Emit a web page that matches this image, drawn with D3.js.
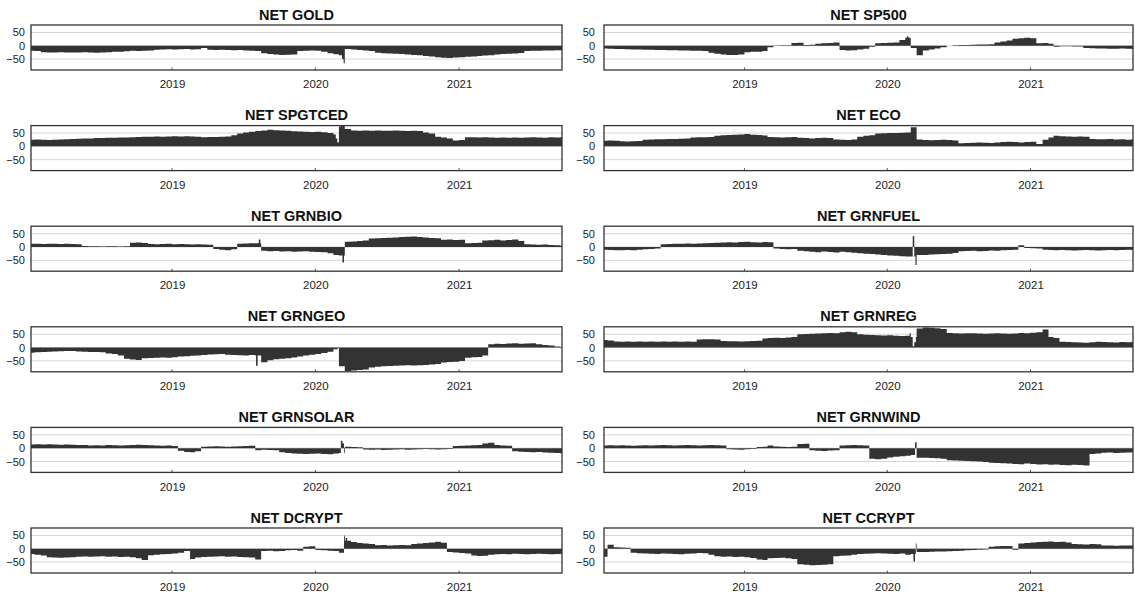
<!DOCTYPE html>
<html><head><meta charset="utf-8">
<script src="https://cdn.jsdelivr.net/npm/d3@7"></script>
<style>body{margin:0;background:#fff}svg{display:block}</style>
</head><body><svg id="c" width="1135" height="598"></svg>
<script>
// Semi-monthly readings (1st and 16th of each month, Jan 2018 - Sep 2021)
const gold = [-19,-20,-24,-25,-25,-24,-25,-25,-25,-24,-25,-26,-25,-24,-22,-22,-21,-19,-20,-19,-18,-15,-14,-13,-14,-13,-12,-14,-13,-8,-15,-16,-15,-16,-17,-16,-18,-19,-20,-28,-31,-33,-35,-34,-33,-20,-19,-18,-19,-22,-28,-32,-36,-12,-14,-16,-18,-20,-26,-28,-29,-30,-31,-33,-35,-36,-38,-40,-43,-45,-46,-44,-43,-41,-40,-38,-37,-36,-33,-31,-30,-29,-27,-20,-19,-19,-18,-18,-17,-17];
const sp500 = [-10,-11,-12,-12,-13,-14,-14,-15,-15,-16,-16,-17,-17,-18,-18,-19,-19,-20,-26,-30,-33,-35,-35,-33,-24,-22,-22,-20,-6,1,2,2,10,11,3,4,8,9,10,12,-16,-18,-17,-14,-11,-4,9,10,11,12,22,30,-8,-36,-18,-14,-10,-6,0,2,3,3,4,5,5,6,12,16,20,26,28,30,28,9,10,8,-4,-2,-2,-3,-3,-8,-9,-10,-10,-11,-11,-10,-11,-12];
const spgtced = [25,26,25,24,25,26,27,28,29,30,30,31,31,32,32,33,33,34,35,36,36,37,36,37,38,37,38,37,36,34,35,35,36,37,42,48,52,55,58,60,62,61,60,59,57,56,55,54,55,53,50,45,75,65,60,59,60,59,60,59,59,60,59,58,59,58,52,48,36,33,30,22,24,34,34,33,34,33,32,33,32,33,32,33,34,33,32,34,33,34];
const eco = [21,22,21,19,18,19,20,25,26,27,27,28,28,29,30,33,34,34,35,40,42,43,44,45,46,44,43,41,35,34,33,34,35,32,31,30,31,32,31,26,25,24,26,36,40,42,48,49,50,50,51,52,72,26,24,23,24,25,24,22,12,13,14,15,14,13,15,16,17,16,15,16,17,9,25,33,40,38,37,36,37,36,28,27,27,28,26,27,25,27];
const grnbio = [12,12,11,12,12,11,12,11,10,4,3,3,2,3,3,2,3,16,17,15,11,10,11,12,10,11,10,9,10,9,8,-8,-10,-12,-9,12,13,14,14,-14,-16,-15,-17,-16,-18,-17,-16,-18,-19,-20,-24,-30,-32,20,21,22,24,32,33,34,35,36,37,38,39,37,36,34,33,27,28,26,27,14,15,16,24,25,27,24,26,28,22,10,9,8,9,7,6,5];
const grnfuel = [-10,-11,-12,-12,-11,-12,-10,-9,-8,-6,10,11,12,12,13,12,13,14,15,16,17,18,17,19,20,18,17,19,18,-6,-8,-9,-8,-14,-16,-18,-20,-17,-19,-21,-18,-20,-22,-24,-25,-26,-28,-30,-32,-33,-35,-36,-36,-30,-30,-28,-27,-26,-25,-23,-16,-15,-14,-16,-15,-13,-14,-12,-11,-10,6,-4,-5,-6,-10,-11,-12,-11,-12,-13,-12,-11,-12,-13,-12,-11,-12,-11,-10,-11];
const grngeo = [-19,-18,-17,-16,-15,-14,-13,-13,-15,-16,-17,-17,-18,-22,-24,-30,-42,-45,-47,-40,-39,-38,-37,-38,-36,-34,-33,-31,-30,-28,-26,-25,-24,-27,-28,-29,-30,-28,-30,-55,-48,-44,-42,-40,-37,-34,-30,-27,-24,-20,-16,-6,-70,-88,-86,-84,-82,-75,-72,-70,-69,-68,-67,-66,-67,-66,-65,-64,-62,-56,-54,-53,-50,-38,-36,-35,-30,12,14,13,15,16,14,15,16,12,10,8,4,-3];
const grnreg = [28,27,23,22,23,22,23,22,23,22,23,22,23,22,23,22,30,31,31,30,25,24,24,23,24,25,26,34,36,37,36,38,40,50,51,52,53,54,55,54,58,59,58,50,48,47,46,45,46,44,43,44,40,72,75,74,73,70,55,54,53,54,54,53,52,53,54,53,52,53,55,54,56,58,68,40,36,22,21,20,19,18,20,22,21,20,19,21,20,22];
const grnsolar = [14,15,14,15,14,13,14,13,12,12,10,11,10,12,11,10,11,12,13,12,11,10,9,10,8,-10,-14,-15,-12,5,6,7,6,5,6,7,8,9,-8,-6,-7,-8,-15,-18,-20,-21,-22,-21,-20,-22,-23,-20,-18,5,4,3,-5,-6,-5,-7,-6,-5,-4,-6,-5,-4,-3,-4,-5,-4,-3,8,9,10,11,12,18,20,12,10,9,-12,-13,-14,-15,-14,-16,-17,-18,-20];
const grnwind = [10,11,10,11,10,9,10,11,10,11,12,11,10,11,12,11,10,11,12,11,10,-4,-5,-6,-4,-3,4,5,10,6,5,4,5,16,17,-8,-10,-11,-9,-8,10,11,12,11,10,-40,-42,-40,-35,-32,-30,-28,-26,-36,-36,-37,-38,-40,-45,-46,-47,-48,-49,-50,-52,-55,-56,-57,-58,-59,-60,-58,-59,-61,-60,-62,-61,-63,-64,-62,-63,-65,-22,-20,-17,-16,-18,-17,-16,-15];
const dcrypt = [-20,-22,-25,-32,-33,-34,-33,-32,-30,-29,-30,-29,-28,-30,-29,-31,-30,-32,-36,-42,-24,-22,-21,-20,-18,-15,-8,-38,-33,-31,-30,-29,-28,-30,-29,-31,-32,-33,-40,-8,-7,-9,-8,-6,-5,-7,8,9,-5,-6,-7,-8,-15,30,25,22,20,18,13,14,12,13,14,13,18,20,22,24,26,23,-12,-14,-16,-18,-25,-27,-26,-22,-21,-20,-21,-19,-20,-21,-20,-19,-20,-21,-20,-19];
const ccrypt = [-30,15,6,5,4,-15,-17,-18,-19,-20,-18,-19,-20,-21,-19,-18,-16,-17,-22,-28,-30,-29,-31,-30,-32,-35,-40,-42,-36,-35,-34,-36,-38,-58,-60,-62,-61,-60,-58,-28,-26,-25,-22,-20,-19,-18,-17,-18,-19,-20,-18,-22,-20,-12,-12,-11,-10,-10,-9,-8,-7,-6,-5,-4,-3,8,9,10,10,-4,20,22,24,25,26,27,25,26,24,18,17,16,18,17,12,12,11,12,12,12];

// Short-lived spikes: [date, value], each lasting a few days
const goldSpikes = [["2020-03-09", -50], ["2020-03-13", -66]];
const sp500Spikes = [["2020-02-20", 36]];
const spgtcedSpikes = [["2020-02-22", 30], ["2020-02-26", 15], ["2020-03-06", 80], ["2020-03-11", 78]];
const ecoSpikes = [];
const grnbioSpikes = [["2019-08-10", 28], ["2020-03-10", -58]];
const grnfuelSpikes = [["2020-03-06", 40], ["2020-03-13", -68]];
const grngeoSpikes = [["2019-08-03", -68], ["2020-02-27", -2]];
const grnregSpikes = [["2020-02-27", 54], ["2020-03-06", 5], ["2020-03-10", 20]];
const grnsolarSpikes = [["2020-03-06", 28], ["2020-03-10", 18]];
const grnwindSpikes = [["2020-03-12", 22]];
const dcryptSpikes = [["2020-03-14", 50], ["2020-03-18", 40]];
const ccryptSpikes = [["2020-03-08", -48], ["2020-03-14", 20]];

const titles = ["NET GOLD","NET SP500","NET SPGTCED","NET ECO","NET GRNBIO","NET GRNFUEL","NET GRNGEO","NET GRNREG","NET GRNSOLAR","NET GRNWIND","NET DCRYPT","NET CCRYPT"];
const seriesList = [gold, sp500, spgtced, eco, grnbio, grnfuel, grngeo, grnreg, grnsolar, grnwind, dcrypt, ccrypt];
const spikeList = [goldSpikes, sp500Spikes, spgtcedSpikes, ecoSpikes, grnbioSpikes, grnfuelSpikes, grngeoSpikes, grnregSpikes, grnsolarSpikes, grnwindSpikes, dcryptSpikes, ccryptSpikes];
const yTicks = [50, 0, -50];
const yDomain = [-91, 78];
const startDate = new Date(Date.UTC(2018, 0, 7));
const endDate = new Date(Date.UTC(2021, 8, 20));

const dates = [];
for (let m = 0; m < 45; m++) {
  dates.push(new Date(Date.UTC(2018, m, 1)));
  dates.push(new Date(Date.UTC(2018, m, 16)));
}

const FONT = '"Liberation Sans", Arial, Helvetica, sans-serif';
const svg = d3.select('#c');
const defs = svg.append('defs');
const cols = [{l: 31, r: 562, pad: 6}, {l: 604, r: 1133, pad: 9}];
const H = 45;
const parse = d3.utcParse('%Y-%m-%d');

seriesList.forEach((vals, i) => {
  const col = i % 2, row = Math.floor(i / 2);
  const c = cols[col];
  const top = 25 + row * 100.6;
  const x = d3.scaleUtc().domain([startDate, endDate]).range([c.l, c.r]);
  const y = d3.scaleLinear().domain(yDomain).range([top + H, top]);
  const g = svg.append('g');
  const id = 'clip' + i;
  defs.append('clipPath').attr('id', id).append('rect')
    .attr('x', c.l).attr('y', top).attr('width', c.r - c.l).attr('height', H);

  g.selectAll('line.grid').data(yTicks).join('line').attr('class', 'grid')
    .attr('x1', c.l).attr('x2', c.r).attr('y1', d => y(d)).attr('y2', d => y(d))
    .attr('stroke', '#d6d6d6').attr('stroke-width', 1);

  // base step points
  const base = dates.map((d, k) => ({d, v: vals[k]}));
  base.push({d: endDate, v: vals[vals.length - 1]});
  const baseAt = t => { let v = base[0].v; for (const p of base) { if (p.d <= t) v = p.v; } return v; };
  const pts = base.slice();
  spikeList[i].forEach(([ds, v]) => {
    const s = parse(ds);
    const e = d3.utcDay.offset(s, 4);
    pts.push({d: s, v});
    pts.push({d: e, v: baseAt(e)});
  });
  // later entries overwrite: resolve overlapping spikes by sorting and keeping spike ends after spike starts
  pts.sort((a, b) => a.d - b.d);
  const area = d3.area().curve(d3.curveStepAfter)
    .x(p => x(p.d)).y0(y(0)).y1(p => y(p.v));
  g.append('path').datum(pts).attr('d', area).attr('fill', '#333333')
    .attr('clip-path', `url(#${id})`);

  const yearTicks = x.ticks(d3.utcYear);
  g.selectAll('line.xt').data(yearTicks).join('line').attr('class', 'xt')
    .attr('x1', d => x(d)).attr('x2', d => x(d))
    .attr('y1', top + H).attr('y2', top + H - 2.5)
    .attr('stroke', '#555').attr('stroke-width', 1);

  const ya = g.append('g').attr('transform', `translate(${c.l},0)`)
    .call(d3.axisLeft(y).tickValues(yTicks).tickSize(0).tickPadding(c.pad).tickFormat(d3.format('d')));
  ya.select('.domain').remove();
  ya.selectAll('text').attr('font-family', FONT).attr('font-size', 11).attr('fill', '#222');

  const xa = g.append('g').attr('transform', `translate(0,${top + H})`)
    .call(d3.axisBottom(x).ticks(d3.utcYear).tickFormat(d3.utcFormat('%Y')).tickSize(0).tickPadding(10));
  xa.select('.domain').remove();
  xa.selectAll('text').attr('font-family', FONT).attr('font-size', 11.5).attr('fill', '#222');

  g.append('rect').attr('x', c.l).attr('y', top).attr('width', c.r - c.l).attr('height', H)
    .attr('fill', 'none').attr('stroke', '#333').attr('stroke-width', 1.3);

  g.append('text').attr('x', (c.l + c.r) / 2).attr('y', top - 5.5)
    .attr('text-anchor', 'middle').attr('font-family', FONT).attr('font-weight', 'bold')
    .attr('font-size', 14.5).attr('fill', '#111').text(titles[i]);
});
</script></body></html>
